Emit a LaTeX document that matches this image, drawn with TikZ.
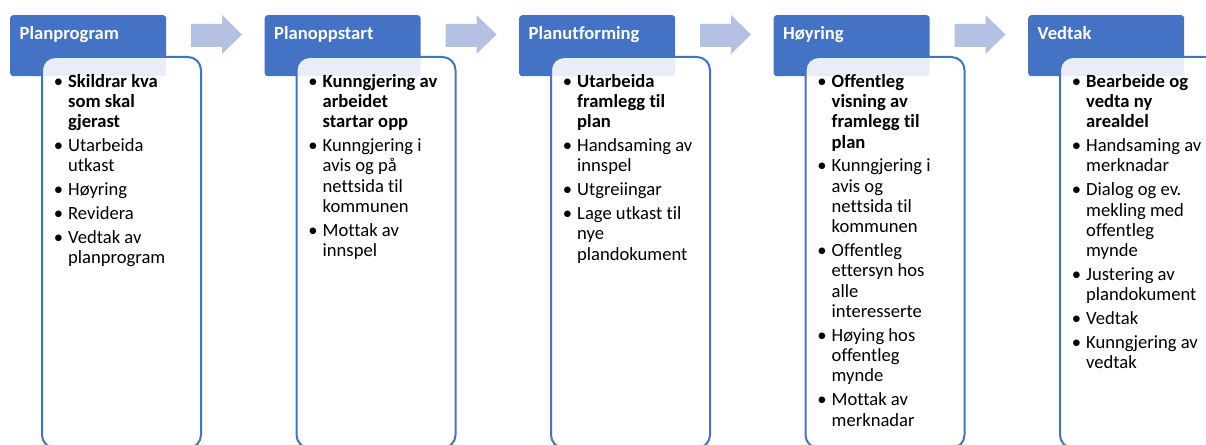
\documentclass[tikz,border=0pt]{standalone}
\usepackage{fontspec}
\setmainfont{Carlito}[Ligatures=NoCommon]
\usepackage{tikz}

\definecolor{stageblue}{RGB}{68,114,196}
\definecolor{arrowblue}{RGB}{180,193,226}
\newcommand{\bul}{\llap{\textbullet\hspace{5pt}}}

\begin{document}
\begin{tikzpicture}[x=1pt,y=-1pt,
    stagehead/.style={fill=stageblue,rounded corners=3pt,anchor=north west,
      minimum width=156pt,minimum height=61pt,inner sep=0pt},
    stagename/.style={anchor=base west,inner sep=0pt,text=white,
      font=\fontsize{18.6}{20.3}\selectfont\bfseries},
    stagebox/.style={draw=stageblue,line width=2pt,fill=white,fill opacity=0.88,
      rounded corners=13pt,anchor=north west,minimum width=159pt,
      minimum height=391pt,inner sep=0pt},
    stagelist/.style={anchor=north west,inner sep=0pt,align=left,
      font=\fontsize{18.6}{20.3}\selectfont},
    stagearrow/.style={fill=arrowblue}]
\useasboundingbox (0,0) rectangle (1206,444);
\clip (0,0) rectangle (1206,444);
{
    % arrows between the stages
    \fill[stagearrow] (191,24) -- (222,24) -- (222,15) -- (242,34.5) -- (222,54) -- (222,47) -- (191,47) -- cycle;
    \fill[stagearrow] (445.5,24) -- (476.5,24) -- (476.5,15) -- (496.5,34.5) -- (476.5,54) -- (476.5,47) -- (445.5,47) -- cycle;
    \fill[stagearrow] (700,24) -- (731,24) -- (731,15) -- (751,34.5) -- (731,54) -- (731,47) -- (700,47) -- cycle;
    \fill[stagearrow] (954.5,24) -- (985.5,24) -- (985.5,15) -- (1005.5,34.5) -- (985.5,54) -- (985.5,47) -- (954.5,47) -- cycle;

    % Planprogram
    \node[stagehead] (head1) at (10,15) {};
    \node[stagename] (name1) at (19.5,40) {Planprogram};
    \node[stagebox] (box1) at (41,56) {};
    \node[stagelist] (list1) at (68,74) {\bul\textbf{Skildrar kva}\\ \textbf{som skal}\\ \textbf{gjerast}\\[3.5pt]
      \bul Utarbeida\\ utkast\\[3.5pt] \bul Høyring\\[3.5pt] \bul Revidera\\[3.5pt] \bul Vedtak av\\ planprogram};

    % Planoppstart
    \node[stagehead] (head2) at (264.5,15) {};
    \node[stagename] (name2) at (274,40) {Planoppstart};
    \node[stagebox] (box2) at (295.5,56) {};
    \node[stagelist] (list2) at (322.5,74) {\bul\textbf{Kunngjering av}\\ \textbf{arbeidet}\\ \textbf{startar opp}\\[3.5pt]
      \bul Kunngjering i\\ avis og på\\ nettsida til\\ kommunen\\[3.5pt] \bul Mottak av\\ innspel};

    % Planutforming
    \node[stagehead] (head3) at (519,15) {};
    \node[stagename] (name3) at (528.5,40) {Planutforming};
    \node[stagebox] (box3) at (550,56) {};
    \node[stagelist] (list3) at (577,74) {\bul\textbf{Utarbeida}\\ \textbf{framlegg til}\\ \textbf{plan}\\[3.5pt]
      \bul Handsaming av\\ innspel\\[3.5pt] \bul Utgreiingar\\[3.5pt] \bul Lage utkast til\\ nye\\ plandokument};

    % Høyring
    \node[stagehead] (head4) at (773.5,15) {};
    \node[stagename] (name4) at (783,40) {Høyring};
    \node[stagebox] (box4) at (804.5,56) {};
    \node[stagelist] (list4) at (831.5,74) {\bul\textbf{Offentleg}\\ \textbf{visning av}\\ \textbf{framlegg til}\\ \textbf{plan}\\[3.5pt]
      \bul Kunngjering i\\ avis og\\ nettsida til\\ kommunen\\[3.5pt] \bul Offentleg\\ ettersyn hos\\ alle\\ interesserte\\[3.5pt]
      \bul Høying hos\\ offentleg\\ mynde\\[3.5pt] \bul Mottak av\\ merknadar};

    % Vedtak
    \node[stagehead] (head5) at (1028,15) {};
    \node[stagename] (name5) at (1037.5,40) {Vedtak};
    \node[stagebox] (box5) at (1059,56) {};
    \node[stagelist] (list5) at (1086,74) {\bul\textbf{Bearbeide og}\\ \textbf{vedta ny}\\ \textbf{arealdel}\\[3.5pt]
      \bul Handsaming av\\ merknadar\\[3.5pt] \bul Dialog og ev.\\ mekling med\\ offentleg\\ mynde\\[3.5pt]
      \bul Justering av\\ plandokument\\[3.5pt] \bul Vedtak\\[3.5pt] \bul Kunngjering av\\ vedtak};
}
\end{tikzpicture}
\end{document}
